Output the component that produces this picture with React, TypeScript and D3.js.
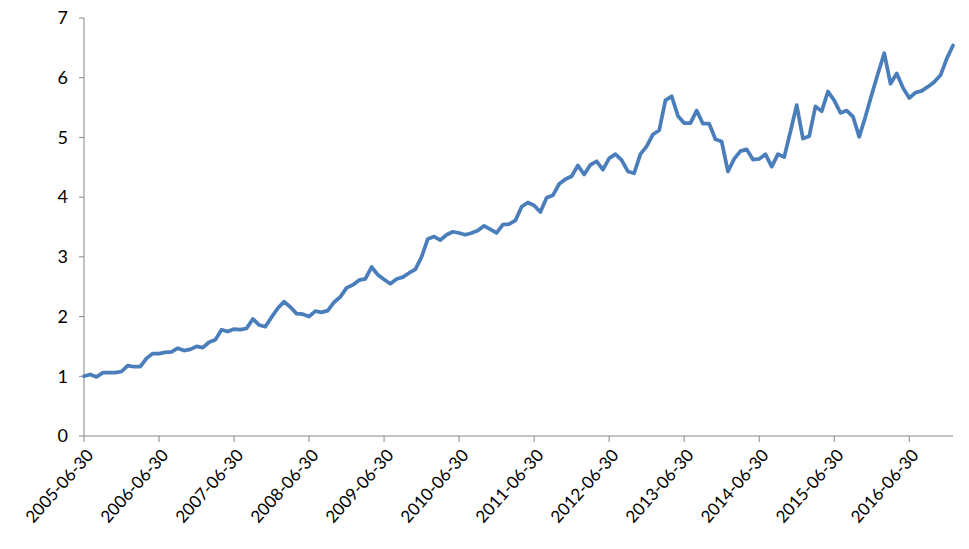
import React from "react";
import * as d3 from "d3";

const values: number[] = [
  1.00, 1.03, 0.99, 1.06, 1.06, 1.06, 1.08, 1.18, 1.16, 1.16,
  1.30, 1.38, 1.38, 1.40, 1.41, 1.47, 1.43, 1.45, 1.50, 1.48,
  1.57, 1.61, 1.78, 1.75, 1.79, 1.78, 1.80, 1.96, 1.86, 1.83,
  1.99, 2.14, 2.25, 2.16, 2.05, 2.04, 2.00, 2.09, 2.07, 2.10,
  2.24, 2.33, 2.48, 2.53, 2.61, 2.63, 2.83, 2.70, 2.62, 2.55,
  2.63, 2.66, 2.73, 2.79, 3.00, 3.30, 3.34, 3.28, 3.37, 3.42,
  3.40, 3.37, 3.40, 3.44, 3.52, 3.46, 3.40, 3.54, 3.55, 3.61,
  3.84, 3.91, 3.86, 3.75, 3.99, 4.03, 4.22, 4.30, 4.35, 4.53,
  4.38, 4.54, 4.60, 4.46, 4.65, 4.72, 4.62, 4.43, 4.40, 4.72,
  4.85, 5.05, 5.12, 5.62, 5.69, 5.36, 5.24, 5.24, 5.45, 5.23,
  5.23, 4.97, 4.93, 4.43, 4.64, 4.77, 4.80, 4.63, 4.64, 4.72,
  4.51, 4.72, 4.67, 5.10, 5.54, 4.98, 5.02, 5.52, 5.44, 5.77,
  5.62, 5.41, 5.45, 5.35, 5.01, 5.35, 5.72, 6.07, 6.41, 5.90,
  6.07, 5.83, 5.66, 5.75, 5.78, 5.85, 5.93, 6.04, 6.32, 6.54,
];

const tickLabels: string[] = [
  "2005-06-30", "2006-06-30", "2007-06-30", "2008-06-30", "2009-06-30",
  "2010-06-30", "2011-06-30", "2012-06-30", "2013-06-30", "2014-06-30",
  "2015-06-30", "2016-06-30",
];
const tickEvery = 12;
const yTicks: number[] = [0, 1, 2, 3, 4, 5, 6, 7];

const W = 969;
const H = 549;
const left = 84;
const right = 953;
const top = 18;
const bottom = 436;
const FONT = "Lato, 'Open Sans', sans-serif";

export default function App() {
  const x = d3.scaleLinear().domain([0, values.length - 1]).range([left, right]);
  const y = d3.scaleLinear().domain([0, 7]).range([bottom, top]);
  const line = d3
    .line<number>()
    .x((_, i) => x(i))
    .y((d) => y(d));
  const axisColor = "#868686";
  return (
    <svg
      width={W}
      height={H}
      style={{ position: "absolute", left: 0, top: 0, background: "#fff" }}
    >
      <line x1={left} x2={left} y1={top} y2={bottom} stroke={axisColor} strokeWidth={1} />
      {yTicks.map((t) => (
        <g key={t}>
          <line x1={left - 5} x2={left} y1={y(t)} y2={y(t)} stroke={axisColor} />
          <text
            x={68}
            y={y(t)}
            dy="0.35em"
            textAnchor="end"
            fontFamily={FONT}
            fontSize={18}
            fill="#000"
          >
            {t}
          </text>
        </g>
      ))}
      <line x1={left} x2={right} y1={bottom} y2={bottom} stroke={axisColor} strokeWidth={1} />
      {tickLabels.map((lab, k) => {
        const tx = x(k * tickEvery);
        return (
          <g key={lab}>
            <line x1={tx} x2={tx} y1={bottom} y2={bottom + 6} stroke={axisColor} />
            <text
              transform={`translate(${tx + 6},${bottom + 16}) rotate(-48)`}
              textAnchor="end"
              dy="0.35em"
              fontFamily={FONT}
              fontSize={17}
              fill="#000"
            >
              {lab}
            </text>
          </g>
        );
      })}
      <path
        d={line(values) || ""}
        fill="none"
        stroke="#4A7EBB"
        strokeWidth={3.75}
        strokeLinejoin="round"
        strokeLinecap="round"
      />
    </svg>
  );
}
